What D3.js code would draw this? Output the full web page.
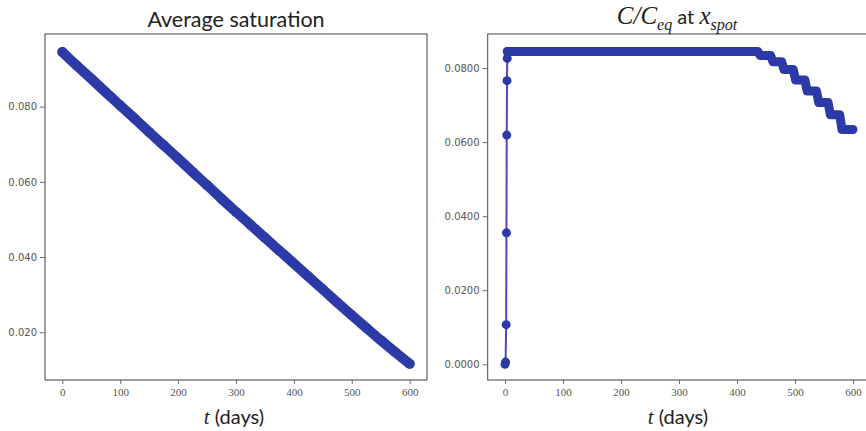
<!DOCTYPE html>
<html><head><meta charset="utf-8">
<script src="https://cdn.jsdelivr.net/npm/d3@7"></script>
<style>
body{margin:0;background:#fff;}
svg{display:block;}
</style></head>
<body>
<svg id="chart" width="866" height="431"></svg>
<script>
// ---- Data ----
// Left panel: average saturation vs time (days)
const satTimes  = [0,25,50,75,100,125,150,175,200,225,250,275,300,325,350,375,400,425,450,475,500,525,550,575,600];
const satValues = [0.0945,0.0909,0.0874,0.0838,0.0803,0.0768,0.0732,0.0697,0.0662,0.0626,0.0591,0.0555,0.0520,0.0486,0.0451,0.0417,0.0383,0.0348,0.0314,0.0279,0.0245,0.0212,0.0179,0.0147,0.0116];

// Right panel: C/Ceq at x_spot — initial rise (sparse samples)
const riseTimes  = [0, 1, 2, 2.5, 3, 3.5, 3.8, 4];
const riseValues = [0.0000, 0.0006, 0.0107, 0.0355, 0.0619, 0.0766, 0.0826, 0.0845];
// Right panel: plateau and staircase decline (dense samples, drawn as a band)
const stairTimes  = [4,436,440,458,462,477,481,497,501,517,521,537,541,557,561,577,581,600];
const stairValues = [0.0845,0.0845,0.0834,0.0834,0.0817,0.0817,0.0796,0.0796,0.0768,0.0768,0.0738,0.0738,0.0707,0.0707,0.0674,0.0674,0.0634,0.0634];

const xTicks = [0,100,200,300,400,500,600];
const leftYTicks  = [0.020,0.040,0.060,0.080];
const rightYTicks = [0.0000,0.0200,0.0400,0.0600,0.0800];

// ---- Drawing ----
const svg = d3.select("#chart");
const markColor = "#2c3aa8";
const lineColor = "#4a4ac4";
const spineColor = "#6e6e6e";
const tickTextColor = "#555";

function frame(g, x, y) {
  const [x0,x1] = x.range(), [y1,y0] = y.range();
  g.append("rect").attr("x",x0).attr("y",y0).attr("width",x1-x0).attr("height",y1-y0)
    .attr("fill","none").attr("stroke",spineColor).attr("stroke-width",1.3);
}

function axes(g, x, y, yTicks, yFmt) {
  const [x0] = x.range(), [y1] = y.range();
  const xa = g.append("g").attr("transform",`translate(0,${y1})`)
    .call(d3.axisBottom(x).tickValues(xTicks).tickSize(4).tickPadding(4).tickFormat(d3.format("d")));
  xa.select(".domain").remove();
  xa.selectAll("line").attr("stroke",spineColor);
  xa.selectAll("text").attr("fill",tickTextColor).style("font-family","'Liberation Serif',serif").style("font-size","11px");
  const ya = g.append("g").attr("transform",`translate(${x0},0)`)
    .call(d3.axisLeft(y).tickValues(yTicks).tickSize(5).tickPadding(3).tickFormat(d3.format(yFmt)));
  ya.select(".domain").remove();
  ya.selectAll("line").attr("stroke",spineColor);
  ya.selectAll("text").attr("fill",tickTextColor).style("font-family","'DejaVu Sans',sans-serif").style("font-size","10px");
}

function xLabel(g, cx, yb) {
  const t = g.append("text").attr("x",cx).attr("y",yb).attr("text-anchor","middle").attr("fill","#222");
  t.append("tspan").text("t").style("font-family","'Liberation Serif',serif").style("font-style","italic").style("font-size","21px");
  t.append("tspan").text(" (days)").style("font-family","Lato,sans-serif").style("font-size","20px");
}

// Left panel
{
  const x = d3.scaleLinear().domain([-30,630]).range([45,427]);
  const y = d3.scaleLinear().domain([0.0073,0.0993]).range([380,34]);
  const g = svg.append("g");
  const pts = satTimes.map((t,i)=>[t,satValues[i]]);
  const line = d3.line().x(d=>x(d[0])).y(d=>y(d[1])).curve(d3.curveMonotoneX);
  g.append("path").datum(pts).attr("d",line).attr("fill","none")
    .attr("stroke",markColor).attr("stroke-width",10).attr("stroke-linecap","round").attr("stroke-linejoin","round");
  g.selectAll("circle").data(pts).join("circle").attr("cx",d=>x(d[0])).attr("cy",d=>y(d[1])).attr("r",5).attr("fill",markColor);
  frame(g,x,y);
  axes(g,x,y,leftYTicks,".3f");
  g.append("text").attr("x",236).attr("y",27).attr("text-anchor","middle")
    .style("font-family","Lato,sans-serif").style("font-size","21.5px").attr("fill","#222").text("Average saturation");
  xLabel(g,234,424);
}

// Right panel
{
  const x = d3.scaleLinear().domain([-30,630]).range([487.6,870.4]);
  const y = d3.scaleLinear().domain([-0.00424,0.0892]).range([380,34]);
  const g = svg.append("g");
  const rise = riseTimes.map((t,i)=>[t,riseValues[i]]);
  const stair = stairTimes.map((t,i)=>[t,stairValues[i]]);
  const line = d3.line().x(d=>x(d[0])).y(d=>y(d[1]));
  g.append("path").datum(rise.concat(stair)).attr("d",line).attr("fill","none")
    .attr("stroke",lineColor).attr("stroke-width",2);
  g.append("path").datum(stair).attr("d",line).attr("fill","none")
    .attr("stroke",markColor).attr("stroke-width",9).attr("stroke-linecap","round").attr("stroke-linejoin","round");
  g.selectAll("circle.r").data(rise).join("circle").attr("class","r")
    .attr("cx",d=>x(d[0])).attr("cy",d=>y(d[1])).attr("r",4.5).attr("fill",markColor);
  frame(g,x,y);
  axes(g,x,y,rightYTicks,".4f");
  const t = g.append("text").attr("x",677).attr("y",24).attr("text-anchor","middle").attr("fill","#222");
  t.append("tspan").text("C/C").style("font-family","'Liberation Serif',serif").style("font-style","italic").style("font-size","25px");
  t.append("tspan").text("eq").attr("dy",6).style("font-family","'Liberation Serif',serif").style("font-style","italic").style("font-size","16px");
  t.append("tspan").text(" at ").attr("dy",-6).style("font-family","Lato,sans-serif").style("font-size","20px");
  t.append("tspan").text("x").style("font-family","'Liberation Serif',serif").style("font-style","italic").style("font-size","25px");
  t.append("tspan").text("spot").attr("dy",6).style("font-family","'Liberation Serif',serif").style("font-style","italic").style("font-size","16px");
  xLabel(g,678,424);
}
</script>
</body></html>
